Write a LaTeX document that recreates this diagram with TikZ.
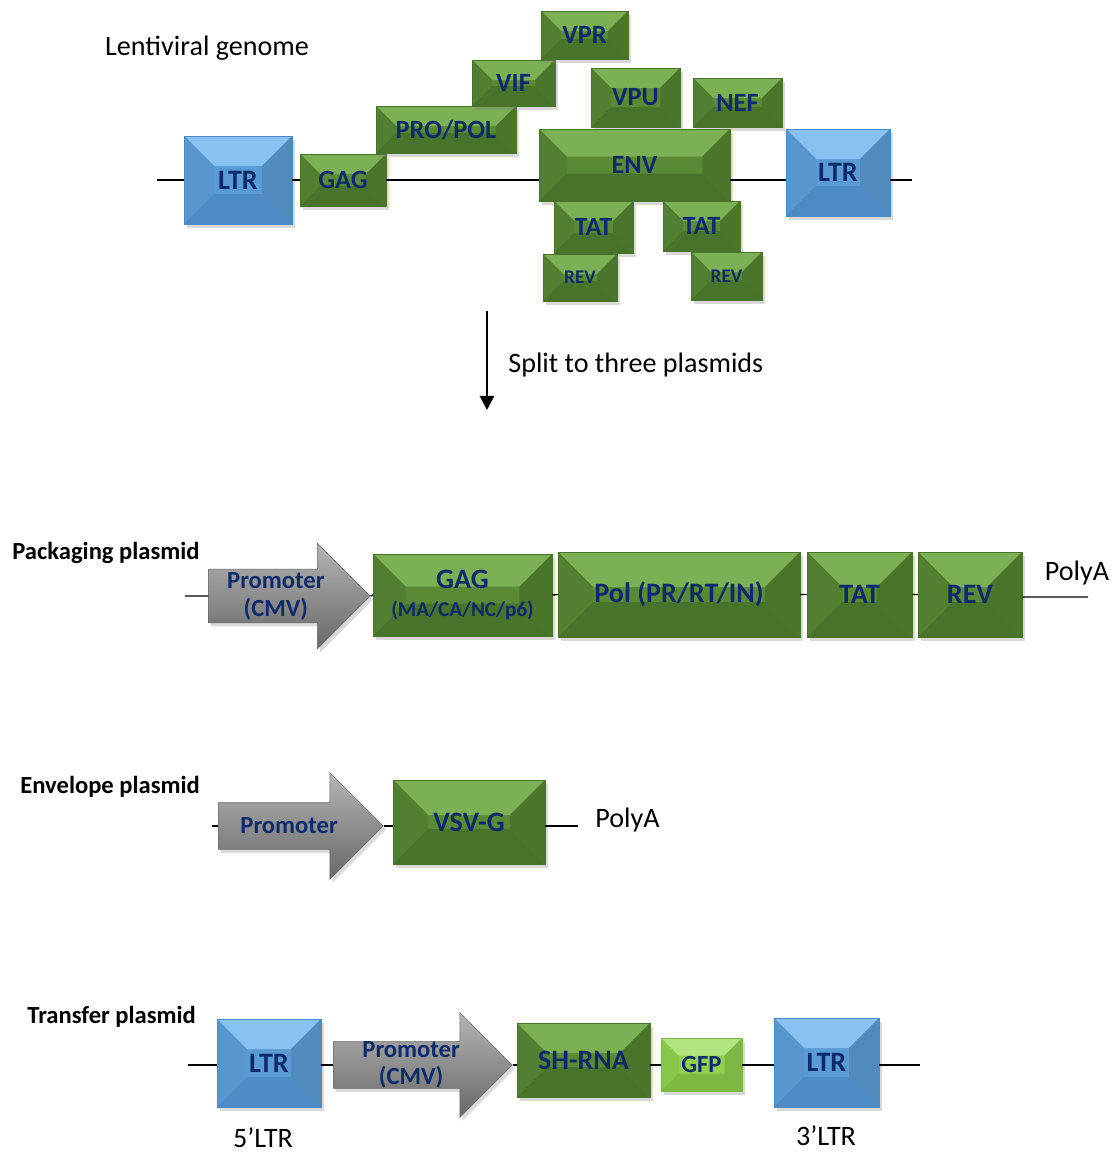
\documentclass[tikz,border=0pt]{standalone}
\usepackage{fontspec}
\setmainfont{Carlito}
\usetikzlibrary{shapes.arrows, shadows, arrows.meta}

% colours of the boxes
\definecolor{navy}{HTML}{0C2B6B}
\definecolor{gmid}{HTML}{5A8A35}
\definecolor{gtop}{HTML}{7BB055}
\definecolor{gside}{HTML}{537F30}
\definecolor{gbot}{HTML}{47732A}
\definecolor{bmid}{HTML}{5B9BD5}
\definecolor{btop}{HTML}{88C2F0}
\definecolor{bside}{HTML}{5896CE}
\definecolor{bbot}{HTML}{4E8AC3}
\definecolor{lmid}{HTML}{92D050}
\definecolor{ltop}{HTML}{B2E580}
\definecolor{lside}{HTML}{89C749}
\definecolor{lbot}{HTML}{7DB940}
\definecolor{atop}{HTML}{B4B4B4}
\definecolor{amid}{HTML}{8C8C8C}
\definecolor{abot}{HTML}{686868}

\newcommand{\fsz}[2]{\fontsize{#1}{#2}\selectfont}

\tikzset{
  bv/.store in=\bv, bv=0.4cm,
  bevel/.style={fill=#1mid, draw=#1bot, line width=0.3pt,
    drop shadow={opacity=0.3, shadow xshift=1.5pt, shadow yshift=-2pt},
    path picture={
      \coordinate (pp-nw) at (path picture bounding box.north west);
      \coordinate (pp-ne) at (path picture bounding box.north east);
      \coordinate (pp-sw) at (path picture bounding box.south west);
      \coordinate (pp-se) at (path picture bounding box.south east);
      \coordinate (pp-inw) at ([shift={(\bv,-\bv)}]pp-nw);
      \coordinate (pp-ine) at ([shift={(-\bv,-\bv)}]pp-ne);
      \coordinate (pp-isw) at ([shift={(\bv,\bv)}]pp-sw);
      \coordinate (pp-ise) at ([shift={(-\bv,\bv)}]pp-se);
      \fill[#1top] (pp-nw) -- (pp-ne) -- (pp-ine) -- (pp-inw) -- cycle;
      \fill[#1side] (pp-nw) -- (pp-inw) -- (pp-isw) -- (pp-sw) -- cycle;
      \fill[#1side!92!black] (pp-ne) -- (pp-ine) -- (pp-ise) -- (pp-se) -- cycle;
      \fill[#1bot] (pp-sw) -- (pp-isw) -- (pp-ise) -- (pp-se) -- cycle;
    }},
  sz/.style 2 args={minimum width=#1cm, minimum height=#2cm},
  gene/.style={bevel=g, text=navy, font=\bfseries\fsz{15pt}{17pt}, inner sep=0pt, align=center},
  big/.style={bv=0.7cm, font=\bfseries\fsz{16pt}{18pt}},
  ltr/.style={bevel=b, bv=0.6cm, text=navy, font=\bfseries\fsz{16pt}{18pt}, inner sep=0pt},
  prom/.style={single arrow, single arrow head extend=#1, single arrow head indent=0pt,
    anchor=tail, inner xsep=0pt,
    top color=atop, middle color=amid, bottom color=abot, draw=abot, line width=0.3pt,
    drop shadow={opacity=0.3, shadow xshift=1.5pt, shadow yshift=-2pt},
    text=navy, font=\bfseries\fsz{14pt}{16pt}, align=center},
  plasmidname/.style={font=\bfseries\fsz{14pt}{16pt}, anchor=west, inner sep=0pt},
  plain/.style={font=\fsz{16pt}{19pt}, inner sep=0pt}
}

\begin{document}
\begin{tikzpicture}[x=0.02cm, y=-0.02cm]
    \useasboundingbox (0,0) rectangle (1115,1153);

    % Lentiviral genome
    \node[plain] (gtitle) at (207,48) {Lentiviral genome};
    \node[ltr, sz={2.16}{1.76}] (ltrA) at (238,180) {LTR};
    \node[gene, sz={1.72}{1.04}] (gagA) at (343,180) {GAG};
    \node[gene, sz={2.8}{0.94}] (pro) at (446,129.5) {PRO/POL};
    \node[gene, sz={1.66}{0.92}] (vif) at (513.5,83) {VIF};
    \node[gene, sz={1.74}{0.96}] (vpr) at (584.5,35) {VPR};
    \node[gene, sz={1.78}{1.18}] (vpu) at (635.5,97.5) {VPU};
    \node[gene, sz={1.78}{0.98}] (nef) at (737.5,102.5) {NEF};
    \node[gene, sz={3.82}{1.44}, bv=0.55cm] (env) at (634.5,165) {ENV};
    \node[gene, sz={1.58}{1.04}] (tatA) at (593.5,227) {TAT};
    \node[gene, sz={1.54}{1.0}] (tatB) at (701.5,226) {TAT};
    \node[gene, sz={1.48}{0.94}, font=\bfseries\fsz{11pt}{13pt}] (revA) at (580,277.5) {REV};
    \node[gene, sz={1.42}{0.96}, font=\bfseries\fsz{11pt}{13pt}] (revB) at (726.5,276) {REV};
    \node[ltr, sz={2.08}{1.74}] (ltrB) at (838,172.5) {LTR};
    \coordinate (gS) at (157,180);
    \coordinate (gE) at (912,180);
    \draw[line width=1.5pt] (gS) -- (ltrA.west) (ltrA.east) -- (gagA.west)
        (gagA.east) -- (gagA.east -| env.west)
        (ltrA.east -| env.east) -- (ltrA.east -| ltrB.west)
        (ltrA.east -| ltrB.east) -- (gE);

    % Split
    \coordinate (splitA) at (487,311);
    \coordinate (splitB) at (487,410);
    \draw[line width=1.6pt, -{Triangle[length=8pt, width=8pt]}] (splitA) -- (splitB);
    \node[plain, anchor=west] (splittxt) at (508,365) {Split to three plasmids};

    % Packaging plasmid
    \node[plasmidname] (pkname) at (12,553) {Packaging plasmid};
    \node[prom=0.52cm, inner ysep=1.5pt, minimum height=3.24cm] (pkprom) at (208,596) {Promoter\\(CMV)};
    \node[gene, big, sz={3.58}{1.64}, bv=0.65cm] (pkgag) at (462.5,595) {GAG\\[-2pt]{\fsz{12pt}{14pt}(MA/CA/NC/p6)}};
    \node[gene, big, sz={4.84}{1.70}] (pkpol) at (679,594.5) {Pol (PR/RT/IN)};
    \node[gene, big, sz={2.1}{1.7}] (pktat) at (859.5,594.5) {TAT};
    \node[gene, big, sz={2.08}{1.7}] (pkrev) at (970,594.5) {REV};
    \node[plain] (pkpa) at (1077,573) {PolyA};
    \coordinate (pkL) at (185,596);
    \coordinate (pkR) at (1088,597);
    \draw[line width=0.8pt] (pkL) -- (pkprom.tail) (pkprom.tip) -- (pkgag.west)
        (pkgag.east) -- (pkpol.west) (pkpol.east) -- (pktat.west)
        (pktat.east) -- (pkrev.west) (pkrev.east |- pkR) -- (pkR);

    % Envelope plasmid
    \node[plasmidname] (evname) at (20,787) {Envelope plasmid};
    \node[prom=0.6cm, inner ysep=8.5pt, minimum height=3.3cm] (evprom) at (218,826) {Promoter};
    \node[gene, big, sz={3.04}{1.68}] (vsvg) at (469,822) {VSV-G};
    \node[plain, anchor=west] (evpa) at (595,820) {PolyA};
    \coordinate (evL) at (212,826);
    \coordinate (evR) at (578,826);
    \draw[line width=1pt] (evL) -- (evprom.tail) (evprom.tip) -- (evprom.tip -| vsvg.west)
        (evR -| vsvg.east) -- (evR);

    % Transfer plasmid
    \node[plasmidname] (trname) at (27,1017) {Transfer plasmid};
    \node[ltr, sz={2.08}{1.76}] (ltr5) at (269,1063) {LTR};
    \node[prom=0.58cm, inner ysep=0pt, minimum height=3.58cm, font=\bfseries\fsz{14pt}{15pt}] (trprom) at (333,1065) {Promoter\\(CMV)};
    \node[gene, sz={2.66}{1.48}, bv=0.6cm, font=\bfseries\fsz{16pt}{18pt}] (shrna) at (583.5,1060) {SH-RNA};
    \node[bevel=l, text=navy, font=\bfseries\fsz{14pt}{16pt}, inner sep=0pt, bv=0.35cm, sz={1.62}{1.06}] (gfp) at (701.5,1064.5) {GFP};
    \node[ltr, sz={2.1}{1.78}] (ltr3) at (826.5,1062.5) {LTR};
    \node[plain] (ltr5lab) at (263,1138) {5’LTR};
    \node[plain] (ltr3lab) at (826,1136) {3’LTR};
    \coordinate (trL) at (188,1065);
    \coordinate (trR) at (920,1065);
    \draw[line width=0.9pt] (trL) -- (trL -| ltr5.west) (trL -| ltr5.east) -- (trprom.tail)
        (trprom.tip) -- (trprom.tip -| shrna.west) (trprom.tip -| shrna.east) -- (trprom.tip -| gfp.west)
        (trprom.tip -| gfp.east) -- (trprom.tip -| ltr3.west) (trprom.tip -| ltr3.east) -- (trR);
\end{tikzpicture}
\end{document}
